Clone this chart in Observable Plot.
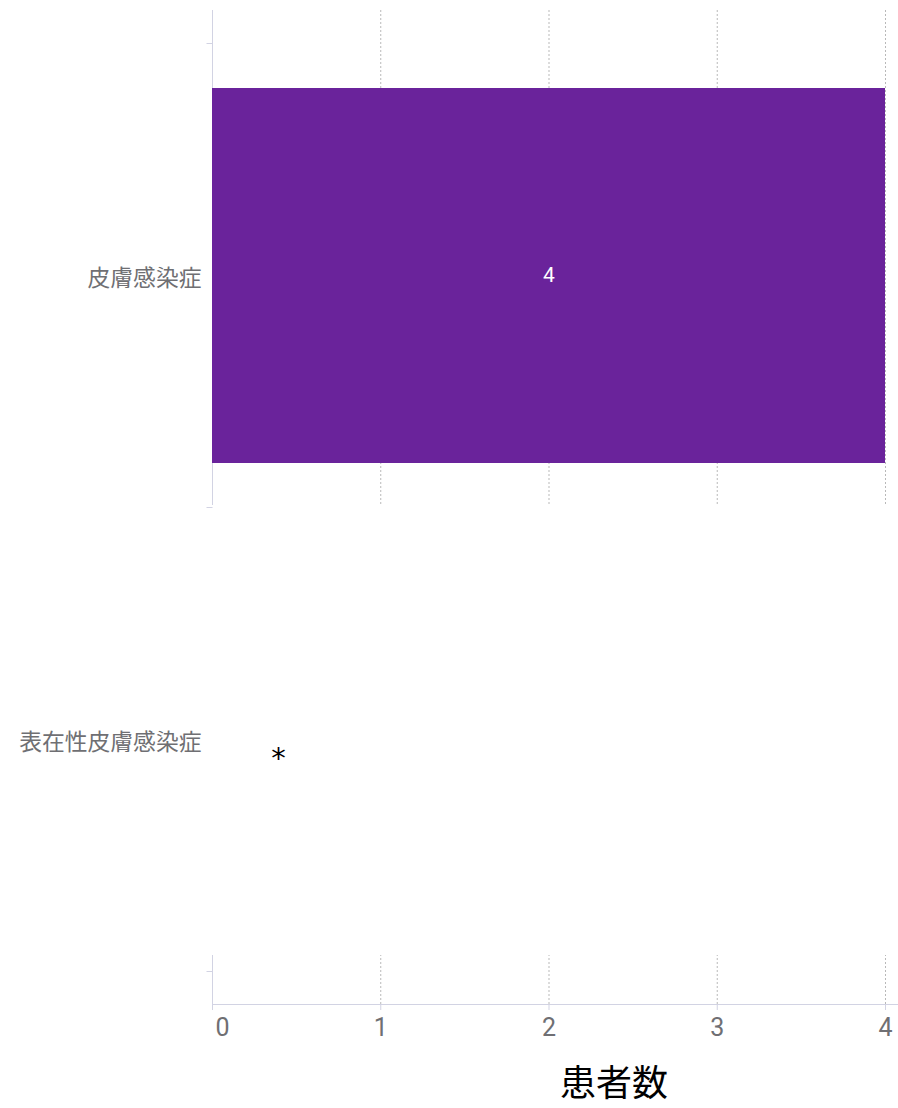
<!DOCTYPE html>
<html><head><meta charset="utf-8">
<script src="https://cdn.jsdelivr.net/npm/d3@7"></script>
<script src="https://cdn.jsdelivr.net/npm/@observablehq/plot@0.6"></script>
<style>body{margin:0;background:#fff}</style>
</head><body><div id="chart"></div>
<script>
const categories = ["皮膚感染症", "表在性皮膚感染症"];
const patientCounts = [4, 0];
const xTicks = [0, 1, 2, 3, 4];
const xLabel = "患者数";
const zeroMarker = "*";

const rows = categories.map((c, i) => ({category: c, count: patientCounts[i]}));
const filled = rows.filter(d => d.count > 0);
const empty = rows.filter(d => d.count === 0);
const xMax = d3.max(xTicks);

const axisColor = "#d2d3e3";
const labelColor = "#6f6f73";
const font = "Roboto, 'Noto Sans CJK JP', sans-serif";

function boundaryTicks(index, scales, values, dimensions) {
  const y = scales.y;
  const starts = categories.map(c => y(c));
  const bw = typeof y.bandwidth === "function" ? y.bandwidth() : (starts[1] - starts[0]);
  const pos = [...starts, starts[starts.length - 1] + bw];
  const x0 = dimensions.marginLeft + 0.5;
  const g = d3.create("svg:g").attr("stroke", axisColor);
  for (const p of pos) {
    g.append("line").attr("x1", x0 - 6).attr("x2", x0).attr("y1", Math.round(p) + 0.5).attr("y2", Math.round(p) + 0.5);
  }
  return g.node();
}

const chart = Plot.plot({
  width: 898,
  height: 1108,
  marginLeft: 212,
  marginRight: 13,
  marginTop: 10,
  marginBottom: 104,
  style: {fontFamily: font, background: "white"},
  x: {domain: [0, xMax]},
  y: {domain: categories, padding: 0, insetTop: 33, insetBottom: 33},
  marks: [
    Plot.gridX(xTicks.filter(t => t > 0), {stroke: "#a8a8a8", strokeOpacity: 0.8, strokeDasharray: "2,2"}),
    Plot.ruleX([0], {stroke: axisColor}),
    Plot.frame({anchor: "bottom", stroke: axisColor, insetRight: -13}),
    Plot.barX(filled, {y: "category", x: "count", fill: "#6a239b", insetTop: 45, insetBottom: 44}),
    Plot.barX(empty, {y: "category", x1: 0, x2: xMax, fill: "white", insetTop: -2, insetBottom: 16, insetLeft: -1, insetRight: -2}),
    Plot.ruleX(empty, {x: 0, y: "category", stroke: "#ebebeb", dx: -1, insetTop: -2, insetBottom: 16}),
    boundaryTicks,
    Plot.axisX(xTicks, {tickSize: 6, tickPadding: 8, stroke: axisColor, fill: labelColor, fontSize: 25, label: null, tickFormat: d => d === 0 ? "" : String(d)}),
    Plot.axisX([0], {tickSize: 0, tickPadding: 14, dx: 10, fill: labelColor, fontSize: 25, label: null, tickFormat: d => String(d)}),
    Plot.axisY({tickSize: 0, tickPadding: 11, fontSize: 22.8, dy: 3, fill: labelColor, label: null}),
    Plot.text(filled, {x: d => d.count / 2, y: "category", text: d => String(d.count), fill: "white", fontSize: 21}),
    Plot.text(empty, {x: 0, y: "category", text: () => zeroMarker, dx: 66, dy: 19, fontSize: 29, fill: "black", fontFamily: "DejaVu Sans"}),
    Plot.text([xLabel], {frameAnchor: "bottom", text: d => d, dx: 65, dy: 91, fontSize: 36, fill: "black", fontFamily: "'Noto Sans CJK JP', sans-serif"})
  ]
});
document.getElementById("chart").append(chart);
</script>
</body></html>
